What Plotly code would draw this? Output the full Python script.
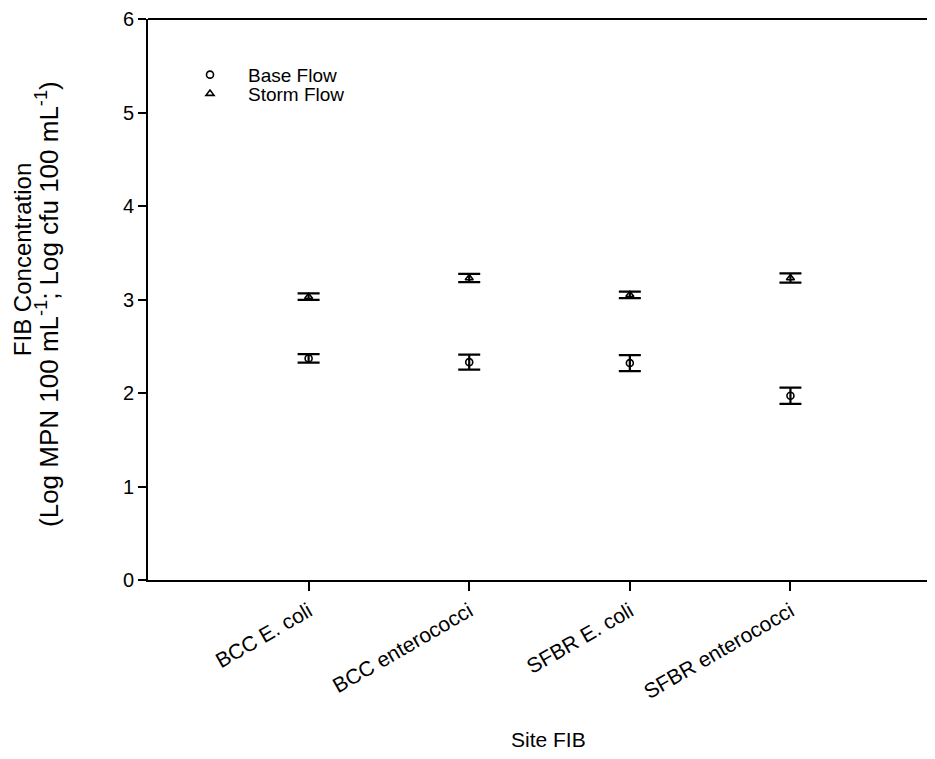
import plotly.graph_objects as go

categories = ["BCC E. coli", "BCC enterococci", "SFBR E. coli", "SFBR enterococci"]
cat_pos = [1, 2, 3, 4]
base_flow = [2.37, 2.33, 2.32, 1.97]
base_err = [0.045, 0.08, 0.085, 0.087]
storm_flow = [3.03, 3.23, 3.05, 3.23]
storm_err = [0.035, 0.045, 0.035, 0.05]
y_ticks = [0, 1, 2, 3, 4, 5, 6]

font_family = "Liberation Sans, Arial, sans-serif"

fig = go.Figure()
fig.add_trace(go.Scatter(
    x=cat_pos, y=base_flow, mode="markers", name="Base Flow", legend="legend",
    marker=dict(symbol="circle-open", size=7, color="black", line=dict(width=1.6, color="black")),
    error_y=dict(type="data", array=base_err, visible=True, thickness=2.2, width=11, color="black"),
))
fig.add_trace(go.Scatter(
    x=cat_pos, y=storm_flow, mode="markers", name="Storm Flow", legend="legend2",
    marker=dict(symbol="triangle-up-open", size=7, color="black", line=dict(width=1.6, color="black")),
    error_y=dict(type="data", array=storm_err, visible=True, thickness=2.2, width=11, color="black"),
))

fig.add_shape(type="line", xref="paper", yref="paper", x0=0, x1=1, y0=1, y1=1,
              line=dict(color="black", width=2))

fig.add_annotation(text="Site FIB", xref="paper", yref="paper", x=0.5095, y=-0.284,
                   xanchor="center", yanchor="middle", showarrow=False,
                   font=dict(size=21, color="black", family=font_family))
fig.add_annotation(text="FIB Concentration", xref="paper", yref="paper",
                   x=(22 - 148) / 787, y=(580 - 258) / 563, textangle=-90,
                   xanchor="center", yanchor="middle", showarrow=False,
                   font=dict(size=24, color="black", family=font_family))
fig.add_annotation(text="(Log MPN 100 mL<sup>-1</sup>; Log cfu 100 mL<sup>-1</sup>)",
                   xref="paper", yref="paper",
                   x=(48 - 148) / 787, y=(580 - 303) / 563, textangle=-90,
                   xanchor="center", yanchor="middle", showarrow=False,
                   font=dict(size=26, color="black", family=font_family))

leg_common = dict(xanchor="left", yanchor="middle", bgcolor="rgba(0,0,0,0)",
                  font=dict(size=19, color="black", family=font_family),
                  itemsizing="trace", itemwidth=66)

fig.update_layout(
    width=927, height=751,
    margin=dict(l=140, r=0, t=9, b=179),
    plot_bgcolor="white", paper_bgcolor="white",
    font=dict(family=font_family, color="black", size=16),
    showlegend=True,
    legend=dict(x=(172 - 148) / 787, y=(580 - 73) / 563, **leg_common),
    legend2=dict(x=(172 - 148) / 787, y=(580 - 92) / 563, **leg_common),
    xaxis=dict(
        range=[0, 4.9], tickmode="array", tickvals=cat_pos, ticktext=categories,
        tickangle=-30, ticks="outside", ticklen=9, tickwidth=1.5, tickcolor="black",
        showline=True, linecolor="black", linewidth=2, showgrid=False, zeroline=False,
        tickfont=dict(size=21, color="black"),
    ),
    yaxis=dict(
        range=[0, 6.0001], tickmode="array", tickvals=y_ticks,
        ticks="outside", ticklen=8, tickwidth=1.5, tickcolor="black",
        showline=True, linecolor="black", linewidth=2, showgrid=False, zeroline=False,
        tickfont=dict(size=20, color="black"), ticklabeloverflow="allow",
    ),
)

fig.write_html("out.html")
